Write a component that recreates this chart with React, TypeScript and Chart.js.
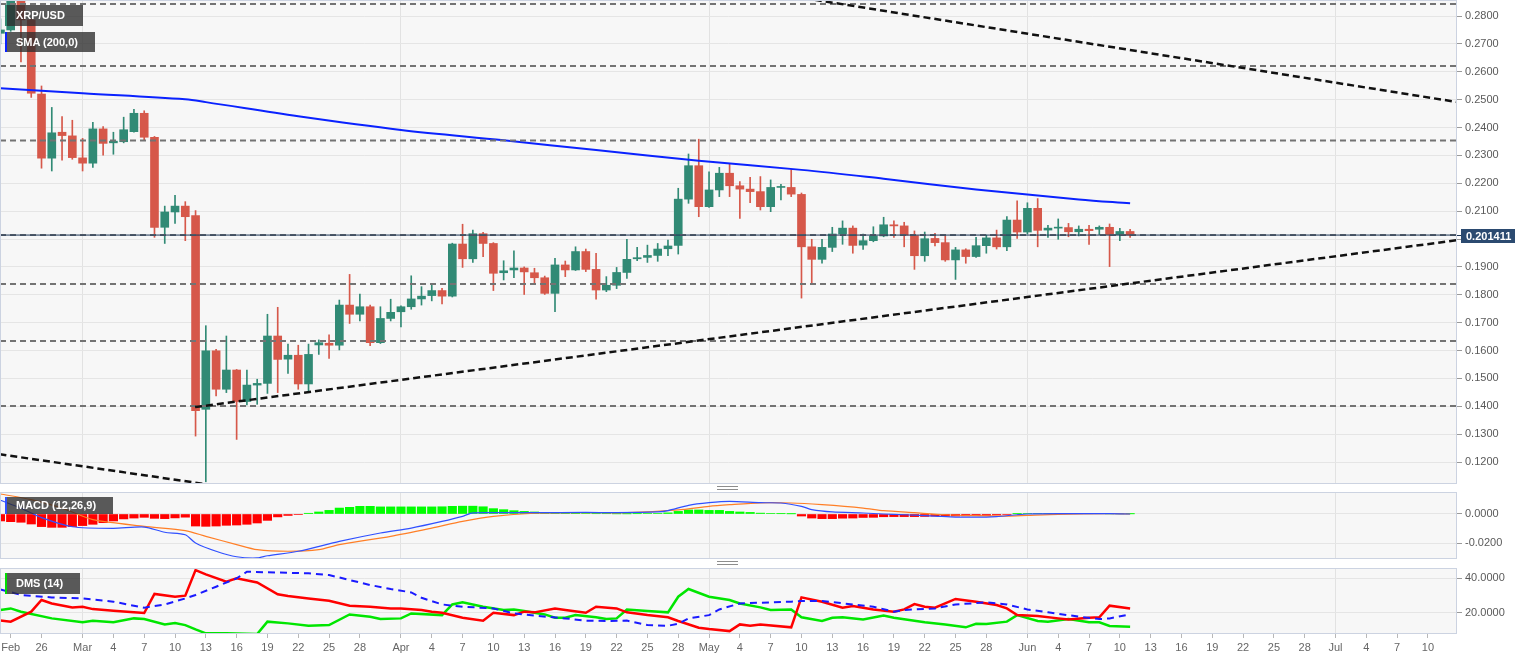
import React, { useEffect, useRef } from "react";
import { Chart, registerables } from "chart.js";

Chart.register(...registerables);

const FONT = '"Liberation Sans", Arial, Helvetica, sans-serif';

// Day index: 0 = 23 Feb 2020, one daily candle per index
const firstCandleDay = -1;

const opens = [
  0.2738, 0.2750, 0.2880, 0.2786, 0.2520, 0.2290, 0.2383, 0.2370, 0.2291, 0.2272,
  0.2395, 0.2345, 0.2349, 0.2385, 0.2451, 0.2365, 0.2042, 0.2097, 0.2118, 0.2084,
  0.1389, 0.1599, 0.1461, 0.1530, 0.1417, 0.1476, 0.1482, 0.1652, 0.1569, 0.1583,
  0.1480, 0.1620, 0.1626, 0.1619, 0.1763, 0.1730, 0.1757, 0.1628, 0.1715, 0.1739,
  0.1757, 0.1785, 0.1797, 0.1815, 0.1795, 0.1982, 0.1929, 0.2019, 0.1984, 0.1879,
  0.1889, 0.1896, 0.1879, 0.1861, 0.1805, 0.1907, 0.1889, 0.1955, 0.1891, 0.1817,
  0.1834, 0.1880, 0.1929, 0.1934, 0.1941, 0.1965, 0.1977, 0.2143, 0.2263, 0.2116,
  0.2176, 0.2236, 0.2191, 0.2179, 0.2170, 0.2116, 0.2185, 0.2185, 0.2160, 0.1972,
  0.1927, 0.1970, 0.2018, 0.2039, 0.1978, 0.1994, 0.2011, 0.2051, 0.2047, 0.2012,
  0.1940, 0.2002, 0.1987, 0.1925, 0.1961, 0.1937, 0.1976, 0.2004, 0.1972, 0.2068,
  0.2025, 0.2110, 0.2032, 0.2039, 0.2041, 0.2026, 0.2035, 0.2035, 0.2042, 0.2016,
  0.2027,
];
const highs = [
  0.2790, 0.2900, 0.2895, 0.2790, 0.2549, 0.2472, 0.2439, 0.2426, 0.2361, 0.2419,
  0.2403, 0.2383, 0.2437, 0.2465, 0.2460, 0.2368, 0.2118, 0.2157, 0.2134, 0.2102,
  0.1689, 0.1604, 0.1652, 0.1532, 0.1530, 0.1497, 0.1730, 0.1755, 0.1623, 0.1619,
  0.1623, 0.1638, 0.1656, 0.1781, 0.1873, 0.1802, 0.1763, 0.1757, 0.1784, 0.1760,
  0.1868, 0.1829, 0.1839, 0.1823, 0.1985, 0.2053, 0.2032, 0.2024, 0.1987, 0.1922,
  0.1958, 0.1900, 0.1895, 0.1867, 0.1931, 0.1921, 0.1972, 0.1964, 0.1949, 0.1865,
  0.1898, 0.1999, 0.1970, 0.1978, 0.1984, 0.1996, 0.2182, 0.2305, 0.2358, 0.2241,
  0.2257, 0.2269, 0.2206, 0.2221, 0.2224, 0.2212, 0.2196, 0.2250, 0.2165, 0.1999,
  0.1999, 0.2042, 0.2065, 0.2047, 0.2018, 0.2044, 0.2078, 0.2065, 0.2060, 0.2029,
  0.2025, 0.2020, 0.2011, 0.1970, 0.1965, 0.2006, 0.2014, 0.2032, 0.2080, 0.2137,
  0.2130, 0.2145, 0.2049, 0.2072, 0.2056, 0.2047, 0.2049, 0.2047, 0.2054, 0.2038,
  0.2035,
];
const lows = [
  0.2700, 0.2745, 0.2635, 0.2508, 0.2254, 0.2244, 0.2283, 0.2286, 0.2244, 0.2257,
  0.2301, 0.2304, 0.2345, 0.2383, 0.2355, 0.2006, 0.1984, 0.2056, 0.1994, 0.1293,
  0.1129, 0.1437, 0.1449, 0.1281, 0.1405, 0.1407, 0.1446, 0.1449, 0.1518, 0.1461,
  0.1449, 0.1586, 0.1572, 0.1602, 0.1697, 0.1706, 0.1617, 0.1625, 0.1706, 0.1685,
  0.1748, 0.1763, 0.1778, 0.1767, 0.1792, 0.1898, 0.1916, 0.1937, 0.1815, 0.1853,
  0.1861, 0.1801, 0.1837, 0.1801, 0.1739, 0.1865, 0.1887, 0.1883, 0.1784, 0.1811,
  0.1822, 0.1859, 0.1922, 0.1916, 0.1920, 0.1940, 0.1946, 0.2128, 0.2080, 0.2113,
  0.2152, 0.2152, 0.2074, 0.2130, 0.2104, 0.2098, 0.2140, 0.2152, 0.1788, 0.1843,
  0.1913, 0.1955, 0.1981, 0.1949, 0.1963, 0.1990, 0.2008, 0.2006, 0.1972, 0.1891,
  0.1920, 0.1975, 0.1920, 0.1855, 0.1913, 0.1934, 0.1949, 0.1964, 0.1958, 0.2002,
  0.2018, 0.1972, 0.2006, 0.1999, 0.2008, 0.2011, 0.1981, 0.2016, 0.1901, 0.1994,
  0.2006,
];
const closes = [
  0.2750, 0.2880, 0.2786, 0.2523, 0.2290, 0.2381, 0.2371, 0.2292, 0.2272, 0.2395,
  0.2343, 0.2351, 0.2392, 0.2451, 0.2365, 0.2042, 0.2097, 0.2118, 0.2080, 0.1384,
  0.1599, 0.1461, 0.1530, 0.1417, 0.1476, 0.1482, 0.1652, 0.1568, 0.1583, 0.1480,
  0.1586, 0.1628, 0.1619, 0.1763, 0.1730, 0.1757, 0.1628, 0.1715, 0.1737, 0.1757,
  0.1785, 0.1795, 0.1815, 0.1795, 0.1982, 0.1929, 0.2019, 0.1984, 0.1877, 0.1886,
  0.1896, 0.1882, 0.1861, 0.1805, 0.1907, 0.1889, 0.1955, 0.1891, 0.1817, 0.1834,
  0.1880, 0.1927, 0.1933, 0.1941, 0.1964, 0.1975, 0.2143, 0.2263, 0.2116, 0.2176,
  0.2236, 0.2191, 0.2179, 0.2170, 0.2116, 0.2185, 0.2188, 0.2161, 0.1972, 0.1927,
  0.1970, 0.2018, 0.2039, 0.1977, 0.1994, 0.2011, 0.2051, 0.2047, 0.2014, 0.1940,
  0.2001, 0.1987, 0.1925, 0.1961, 0.1937, 0.1976, 0.2004, 0.1972, 0.2068, 0.2025,
  0.2110, 0.2031, 0.2039, 0.2042, 0.2026, 0.2035, 0.2030, 0.2042, 0.2016, 0.2027,
  0.2014,
];

const smaDays = [-1, 7, 17, 19, 28, 38, 48, 57, 67, 77, 85, 94, 104, 109];
const smaValues = [0.2541, 0.2523, 0.2501, 0.2491, 0.2440, 0.2391, 0.2354, 0.2319, 0.2281, 0.2248, 0.2216, 0.2178, 0.2142, 0.2128];

const levelValues = [0.2843, 0.2621, 0.2353, 0.2014, 0.1839, 0.1634, 0.1401];
const lastPrice = 0.201411;

const resistanceDays = [78.3, 140.9];
const resistanceValues = [0.2858, 0.2491];
const supportDays = [17.95, 140.9];
const supportValues = [0.1397, 0.1996];
const lowerTrendDays = [-1.1, 20];
const lowerTrendValues = [0.1228, 0.1115];

const priceTicks = [0.12, 0.13, 0.14, 0.15, 0.16, 0.17, 0.18, 0.19, 0.2, 0.21, 0.22, 0.23, 0.24, 0.25, 0.26, 0.27, 0.28];
const hiddenPriceTick = 0.2;
const macdTicks = [-0.02, 0];
const dmsTicks = [20, 40];

const xTickDays = [0, 3, 7, 10, 13, 16, 19, 22, 25, 28, 31, 34, 38, 41, 44, 47, 50, 53, 56, 59, 62, 65, 68, 71, 74, 77, 80, 83, 86, 89, 92, 95, 99, 102, 105, 108, 111, 114, 117, 120, 123, 126, 129, 132, 135, 138];
const xTickLabels = ["Feb", "26", "Mar", "4", "7", "10", "13", "16", "19", "22", "25", "28", "Apr", "4", "7", "10", "13", "16", "19", "22", "25", "28", "May", "4", "7", "10", "13", "16", "19", "22", "25", "28", "Jun", "4", "7", "10", "13", "16", "19", "22", "25", "28", "Jul", "4", "7", "10"];
const monthStartDays = [7, 38, 68, 99, 129];

const macdHist = [
  -0.0048, -0.0053, -0.0057, -0.0069, -0.0087, -0.0092, -0.0092, -0.0087, -0.0080, -0.0071,
  -0.0060, -0.0048, -0.0034, -0.0028, -0.0023, -0.0030, -0.0032, -0.0027, -0.0022, -0.0083,
  -0.0085, -0.0083, -0.0078, -0.0076, -0.0071, -0.0062, -0.0044, -0.0020, -0.0010, -0.0004,
  0.0005, 0.0014, 0.0025, 0.0041, 0.0046, 0.0053, 0.0053, 0.0049, 0.0049, 0.0049,
  0.0049, 0.0049, 0.0049, 0.0050, 0.0053, 0.0054, 0.0054, 0.0050, 0.0037, 0.0030,
  0.0023, 0.0018, 0.0014, 0.0011, 0.0007, 0.0007, 0.0005, 0.0004, 0.0002, 0.0002,
  0.0001, 0.0001, 0.0002, 0.0003, 0.0004, 0.0008, 0.0018, 0.0028, 0.0028, 0.0025,
  0.0025, 0.0018, 0.0014, 0.0011, 0.0006, 0.0004, 0.0002, 0.0001, -0.0014, -0.0028,
  -0.0032, -0.0032, -0.0029, -0.0028, -0.0024, -0.0023, -0.0019, -0.0018, -0.0018, -0.0018,
  -0.0017, -0.0015, -0.0014, -0.0014, -0.0013, -0.0012, -0.0010, -0.0007, -0.0003, 0.0002,
  0.0003, 0.0003, 0.0003, 0.0003, 0.0002, 0.0002, 0.0002, 0.0002, 0.0001, 0.0001,
  0.0001,
];
const macdDays = [-1, 1, 3, 6, 10, 13, 15, 17, 18, 20, 22, 24, 25, 28, 32, 36, 39, 42, 44, 45, 48, 51, 56, 59, 63, 64, 66, 68, 70, 73, 75, 77, 78, 80, 83, 85, 87, 90, 92, 95, 96, 98, 99, 102, 107, 109];
const macdValues = [0.0095, 0.0040, -0.0025, -0.0088, -0.0099, -0.0090, -0.0126, -0.0143, -0.0200, -0.0257, -0.0295, -0.0303, -0.0288, -0.0257, -0.0189, -0.0131, -0.0097, -0.0051, -0.0016, 0.0008, 0.0009, 0.0009, 0.0011, 0.0009, 0.0014, 0.0023, 0.0060, 0.0078, 0.0087, 0.0078, 0.0076, 0.0053, 0.0030, 0.0014, 0.0007, 0.0000, -0.0005, -0.0014, -0.0021, -0.0021, -0.0018, -0.0005, 0.0000, 0.0002, 0.0002, 0.0000];
const signalDays = [-1, 2, 5, 8, 13, 17, 19, 22, 24, 27, 30, 32, 37, 41, 44, 47, 51, 56, 60, 65, 68, 70, 73, 76, 79, 83, 85, 88, 91, 94, 97, 99, 102, 107, 109];
const signalValues = [0.0138, 0.0099, 0.0041, -0.0039, -0.0085, -0.0115, -0.0154, -0.0211, -0.0246, -0.0257, -0.0246, -0.0211, -0.0154, -0.0097, -0.0051, -0.0016, 0.0005, 0.0009, 0.0009, 0.0028, 0.0053, 0.0064, 0.0077, 0.0076, 0.0064, 0.0041, 0.0023, 0.0009, -0.0005, -0.0011, -0.0014, -0.0009, -0.0002, 0.0002, 0.0000];

const plusDiDays = [-1, 0, 1, 4, 7, 8, 10, 12, 13, 15, 16, 17, 18, 19, 21, 24, 25, 27, 29, 31, 33, 35, 36, 38, 39, 42, 43, 44, 46, 48, 49, 50, 52, 53, 54, 55, 57, 58, 59, 60, 62, 64, 65, 66, 68, 70, 71, 73, 74, 76, 77, 79, 80, 81, 83, 85, 86, 89, 91, 93, 94, 95, 97, 98, 100, 101, 103, 105, 106, 107, 109];
const plusDiValues = [21.6, 22.5, 20.6, 16.7, 14.4, 15.3, 14.4, 16.7, 16.3, 13.2, 14.0, 12.8, 10.3, 8.0, 8.0, 7.6, 14.8, 13.8, 12.4, 12.8, 19.0, 17.7, 16.3, 16.7, 19.6, 18.6, 24.8, 26.0, 23.5, 21.6, 21.9, 21.0, 19.0, 17.1, 17.1, 18.6, 17.3, 16.3, 16.7, 21.9, 21.0, 20.2, 29.3, 33.8, 29.3, 27.4, 25.4, 23.1, 21.6, 21.9, 17.3, 15.2, 17.1, 17.3, 16.1, 18.3, 17.1, 14.4, 13.2, 11.5, 13.6, 13.4, 14.8, 18.6, 15.2, 14.8, 16.3, 14.4, 14.4, 12.3, 11.9];
const minusDiDays = [-1, 0, 2, 3, 4, 6, 7, 8, 10, 12, 13, 14, 16, 17, 18, 19, 21, 22, 24, 26, 27, 29, 31, 33, 35, 37, 38, 40, 41, 42, 44, 46, 47, 49, 50, 51, 53, 54, 56, 57, 59, 60, 62, 64, 65, 67, 68, 70, 71, 72, 73, 76, 77, 79, 81, 82, 84, 86, 87, 88, 89, 90, 92, 94, 96, 97, 98, 100, 102, 103, 105, 106, 107, 109];
const minusDiValues = [15.4, 14.8, 20.6, 27.4, 25.4, 23.1, 23.5, 22.1, 21.2, 20.2, 19.8, 30.9, 29.3, 29.9, 44.8, 42.3, 38.0, 40.0, 37.6, 30.7, 29.7, 28.3, 27.0, 24.1, 23.5, 22.5, 22.5, 21.6, 20.6, 20.0, 17.1, 15.4, 20.0, 18.6, 20.6, 20.2, 22.5, 21.6, 20.0, 23.5, 22.5, 20.2, 18.6, 17.3, 15.2, 11.3, 10.5, 9.3, 13.2, 12.4, 13.2, 11.5, 28.9, 26.4, 22.9, 23.9, 21.9, 20.6, 21.9, 25.0, 23.5, 22.9, 28.0, 26.4, 24.5, 22.5, 18.6, 18.1, 16.7, 16.1, 17.1, 17.3, 24.1, 22.5];
const adxDays = [-1, 1, 4, 7, 10, 13, 15, 17, 18, 20, 22, 23, 25, 29, 31, 33, 35, 37, 39, 40, 42, 44, 47, 49, 51, 54, 56, 58, 60, 62, 64, 65, 66, 68, 69, 71, 73, 76, 77, 79, 82, 84, 86, 87, 90, 92, 95, 97, 99, 101, 104, 106, 107, 109];
const adxValues = [33.5, 30.3, 28.9, 28.3, 26.4, 22.9, 24.8, 28.3, 30.3, 35.1, 40.0, 43.8, 43.5, 42.9, 41.9, 39.0, 36.1, 33.8, 31.8, 28.7, 24.8, 23.5, 22.5, 19.6, 18.3, 16.7, 15.4, 15.2, 15.4, 12.8, 12.4, 13.6, 16.7, 18.6, 21.9, 25.4, 25.8, 26.4, 26.8, 26.8, 24.8, 23.5, 20.6, 21.6, 22.5, 24.8, 26.0, 24.8, 21.9, 20.2, 17.7, 16.3, 16.7, 19.0];

// ---- layout constants ----
const X_MIN = -1.042;
const X_MAX = 140.83;
const AXIS_W = 77;
const BULL = "#318a75";
const BEAR = "#d6584a";

const pts = (xs: number[], ys: number[]) => xs.map((x, k) => ({ x, y: ys[k] }));

const panelPlugin = {
  id: "panelFrame",
  beforeDraw(chart: any) {
    const { ctx, chartArea: a } = chart;
    ctx.save();
    ctx.fillStyle = "#f7f7f7";
    ctx.fillRect(a.left, a.top, a.right - a.left, a.bottom - a.top);
    ctx.restore();
  },
  afterDraw(chart: any) {
    const { ctx, chartArea: a } = chart;
    ctx.save();
    ctx.strokeStyle = "#ccd3e1";
    ctx.lineWidth = 1;
    ctx.strokeRect(a.left + 0.5, a.top + 0.5, a.right - a.left - 1, a.bottom - a.top - 1);
    ctx.restore();
  },
};

const priceTagPlugin = {
  id: "priceTag",
  afterDraw(chart: any) {
    const { ctx, chartArea: a, scales } = chart;
    const y = Math.round(scales.y.getPixelForValue(lastPrice));
    ctx.save();
    ctx.strokeStyle = "#1d3555";
    ctx.lineWidth = 1;
    ctx.beginPath();
    ctx.moveTo(a.right, y + 0.5);
    ctx.lineTo(a.right + 5, y + 0.5);
    ctx.stroke();
    ctx.fillStyle = "#2b4a70";
    ctx.fillRect(a.right + 4, y - 6, 54, 14);
    ctx.fillStyle = "#ffffff";
    ctx.font = `bold 11px ${FONT}`;
    ctx.textBaseline = "middle";
    ctx.textAlign = "left";
    ctx.fillText(lastPrice.toFixed(6), a.right + 9, y + 1.5);
    ctx.restore();
  },
};

function xScale(showLabels: boolean): any {
  return {
    type: "linear",
    min: X_MIN,
    max: X_MAX,
    bounds: "data",
    offset: false,
    afterBuildTicks: (s: any) => {
      s.ticks = xTickDays.map((v) => ({ value: v }));
    },
    afterFit: (s: any) => {
      s.paddingLeft = 0;
      s.paddingRight = 0;
      s.height = showLabels ? 27 : 0;
    },
    grid: {
      offset: false,
      color: (c: any) => (c.tick && monthStartDays.includes(c.tick.value) ? "#e2e2e2" : "rgba(0,0,0,0)"),
      lineWidth: 1,
      drawTicks: showLabels,
      tickLength: 4,
      tickColor: "#b8b8b8",
    },
    border: { display: false },
    ticks: {
      display: showLabels,
      autoSkip: false,
      maxRotation: 0,
      minRotation: 0,
      padding: 3,
      color: "#666666",
      font: { size: 11, family: FONT },
      callback: (_v: any, idx: number) => xTickLabels[idx] ?? "",
    },
  };
}

function yScale(min: number, max: number, ticks: number[], fmt: (v: number) => string): any {
  return {
    type: "linear",
    position: "right",
    min,
    max,
    bounds: "data",
    beginAtZero: false,
    afterBuildTicks: (s: any) => {
      s.ticks = ticks.map((v) => ({ value: v }));
    },
    afterFit: (s: any) => {
      s.width = AXIS_W;
      s.paddingTop = 0;
      s.paddingBottom = 0;
    },
    grid: { color: "#e5e5e5", lineWidth: 1, drawTicks: true, tickLength: 5, tickColor: "#9a9a9a" },
    border: { display: false },
    ticks: {
      padding: 3,
      autoSkip: false,
      color: "#5a5a5a",
      font: { size: 11, family: FONT },
      callback: (v: any) => fmt(Number(v)),
    },
  };
}

const baseOptions = (scales: any): any => ({
  responsive: false,
  maintainAspectRatio: false,
  animation: false,
  events: [],
  layout: { padding: 0 },
  plugins: { legend: { display: false }, tooltip: { enabled: false } },
  elements: { point: { radius: 0, hoverRadius: 0 } },
  scales,
});

const labelStyle = (left: number, top: number, width: number, height: number, marker: string): any => ({
  position: "absolute",
  left,
  top,
  width,
  height,
  boxSizing: "border-box",
  background: "rgba(45,45,45,0.78)",
  borderLeft: `2px solid ${marker}`,
  color: "#ffffff",
  font: `bold 11px ${FONT}`,
  lineHeight: `${height}px`,
  paddingLeft: 9,
  whiteSpace: "nowrap",
});

const handleStyle = (top: number): any => ({
  position: "absolute",
  left: 717,
  top,
  width: 21,
  height: 2,
  borderTop: "1px solid #8d8d8d",
  borderBottom: "1px solid #8d8d8d",
});

export default function App() {
  const mainRef = useRef<HTMLCanvasElement>(null);
  const macdRef = useRef<HTMLCanvasElement>(null);
  const dmsRef = useRef<HTMLCanvasElement>(null);

  useEffect(() => {
    document.body.style.margin = "0";
    Chart.defaults.font.family = FONT;
    const charts: any[] = [];
    const days = opens.map((_, k) => firstCandleDay + k);
    const candleColors = opens.map((o, k) => (closes[k] >= o ? BULL : BEAR));

    const levelSets = levelValues.map((v) => ({
      type: "line",
      data: [{ x: X_MIN, y: v }, { x: X_MAX, y: v }],
      borderColor: "#737373",
      borderWidth: 2,
      borderDash: [6, 4],
      pointRadius: 0,
      order: 4,
      clip: 0,
    }));
    const trend = (xs: number[], ys: number[]) => ({
      type: "line",
      data: pts(xs, ys),
      borderColor: "#111111",
      borderWidth: 2.5,
      borderDash: [7, 4],
      pointRadius: 0,
      order: 2,
      clip: 0,
    });

    if (mainRef.current) {
      charts.push(
        new Chart(mainRef.current, {
          type: "bar",
          data: {
            datasets: [
              trend(resistanceDays, resistanceValues),
              trend(supportDays, supportValues),
              trend(lowerTrendDays, lowerTrendValues),
              {
                type: "line",
                data: [{ x: X_MIN, y: lastPrice }, { x: X_MAX, y: lastPrice }],
                borderColor: "#1d3555",
                borderWidth: 1,
                pointRadius: 0,
                order: 3,
                clip: 0,
              },
              ...levelSets,
              {
                type: "line",
                data: pts(smaDays, smaValues),
                borderColor: "#0a22ff",
                borderWidth: 2,
                pointRadius: 0,
                tension: 0.35,
                order: 5,
                clip: 0,
              },
              {
                type: "bar",
                data: days.map((d, k) => ({ x: d, y: [opens[k], closes[k]] })),
                backgroundColor: candleColors,
                barThickness: 8,
                minBarLength: 1,
                grouped: false,
                order: 6,
              },
              {
                type: "bar",
                data: days.map((d, k) => ({ x: d, y: [lows[k], highs[k]] })),
                backgroundColor: candleColors,
                barThickness: 1,
                minBarLength: 1,
                grouped: false,
                order: 7,
              },
            ] as any,
          },
          options: baseOptions({
            x: xScale(false),
            y: yScale(0.11211, 0.28574, priceTicks, (v) => (Math.abs(v - hiddenPriceTick) < 1e-9 ? "" : v.toFixed(4))),
          }),
          plugins: [panelPlugin, priceTagPlugin],
        } as any)
      );
    }

    if (macdRef.current) {
      charts.push(
        new Chart(macdRef.current, {
          type: "bar",
          data: {
            datasets: [
              {
                type: "line",
                data: pts(macdDays, macdValues),
                borderColor: "#3050ff",
                borderWidth: 1.2,
                pointRadius: 0,
                tension: 0.25,
                order: 1,
              },
              {
                type: "line",
                data: pts(signalDays, signalValues),
                borderColor: "#ff7f27",
                borderWidth: 1.2,
                pointRadius: 0,
                tension: 0.25,
                order: 2,
              },
              {
                type: "bar",
                data: macdHist.map((v, k) => ({ x: firstCandleDay + k, y: v })),
                backgroundColor: macdHist.map((v) => (v >= 0 ? "#00ff00" : "#ff0000")),
                barThickness: 8.5,
                grouped: false,
                order: 3,
              },
            ] as any,
          },
          options: baseOptions({
            x: xScale(false),
            y: yScale(-0.031034, 0.015172, macdTicks, (v) => v.toFixed(4)),
          }),
          plugins: [panelPlugin],
        } as any)
      );
    }

    if (dmsRef.current) {
      charts.push(
        new Chart(dmsRef.current, {
          type: "line",
          data: {
            datasets: [
              {
                data: pts(adxDays, adxValues),
                borderColor: "#1a1aff",
                borderWidth: 2,
                borderDash: [7, 5],
                pointRadius: 0,
                order: 1,
              },
              {
                data: pts(minusDiDays, minusDiValues),
                borderColor: "#ff0000",
                borderWidth: 2.5,
                pointRadius: 0,
                order: 2,
              },
              {
                data: pts(plusDiDays, plusDiValues),
                borderColor: "#00e600",
                borderWidth: 2.5,
                pointRadius: 0,
                order: 3,
              },
            ],
          },
          options: baseOptions({
            x: xScale(true),
            y: yScale(7.62, 45.99, dmsTicks, (v) => v.toFixed(4)),
          }),
          plugins: [panelPlugin],
        } as any)
      );
    }

    return () => {
      charts.forEach((c) => c.destroy());
    };
  }, []);

  return (
    <div style={{ position: "relative", width: 1534, height: 661, background: "#ffffff", overflow: "hidden" }}>
      <canvas ref={mainRef} width={1534} height={484} style={{ position: "absolute", left: 0, top: 0, width: 1534, height: 484 }} />
      <canvas ref={macdRef} width={1534} height={67} style={{ position: "absolute", left: 0, top: 492, width: 1534, height: 67 }} />
      <canvas ref={dmsRef} width={1534} height={93} style={{ position: "absolute", left: 0, top: 568, width: 1534, height: 93 }} />
      <div style={labelStyle(5, 5, 78, 21, "#2f8a72")}>XRP/USD</div>
      <div style={labelStyle(5, 32, 90, 20, "#0a22ff")}>SMA (200,0)</div>
      <div style={labelStyle(5, 497, 108, 17, "#3050ff")}>MACD (12,26,9)</div>
      <div style={labelStyle(5, 573, 75, 21, "#00dd00")}>DMS (14)</div>
      <div style={handleStyle(486)} />
      <div style={handleStyle(561)} />
    </div>
  );
}
